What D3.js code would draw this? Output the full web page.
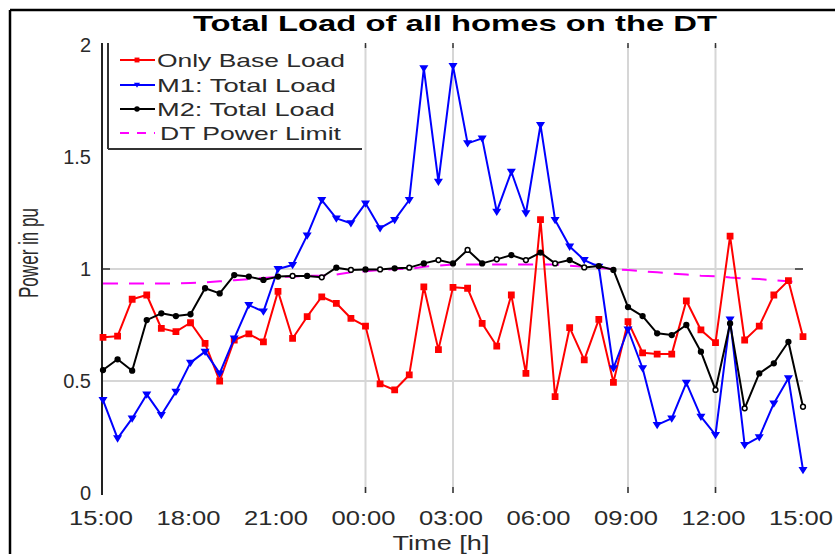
<!DOCTYPE html>
<html>
<head>
<meta charset="utf-8">
<script src="https://cdn.jsdelivr.net/npm/d3@7"></script>
<style>
  html, body { margin: 0; padding: 0; background: #fff; }
  svg { display: block; font-family: "Liberation Sans", Arial, Helvetica, sans-serif; }
</style>
</head>
<body>
<svg id="chart" width="835" height="554"></svg>
<script>
// ---- data (30-minute steps from 15:00 to 15:00 next day) ----
const hours = d3.range(49).map(i => i * 0.5);
const baseLoad = [0.695,0.70,0.865,0.884,0.735,0.72,0.76,0.668,0.50,0.683,0.71,0.675,0.90,
  0.69,0.787,0.876,0.847,0.78,0.745,0.487,0.46,0.527,0.92,0.64,0.918,
  0.914,0.757,0.656,0.884,0.534,1.22,0.43,0.738,0.594,0.775,0.494,0.765,
  0.626,0.62,0.62,0.858,0.728,0.671,1.147,0.683,0.745,0.884,0.948,0.698];
const m1Load = [0.415,0.244,0.333,0.44,0.348,0.452,0.582,0.631,0.534,0.69,0.839,0.81,1.0,
  1.018,1.15,1.308,1.226,1.204,1.293,1.182,1.219,1.308,1.896,1.39,1.906,
  1.561,1.583,1.256,1.434,1.249,1.643,1.219,1.10,1.04,1.01,0.557,0.73,
  0.557,0.304,0.333,0.492,0.341,0.259,0.775,0.214,0.249,0.40,0.512,0.103];
const m2Load = [0.549,0.597,0.546,0.772,0.802,0.79,0.798,0.914,0.891,0.973,0.966,0.951,0.966,
  0.969,0.969,0.963,1.006,0.996,0.998,0.998,1.003,1.006,1.025,1.04,1.025,
  1.085,1.025,1.043,1.062,1.04,1.073,1.025,1.04,1.007,1.013,0.996,0.83,
  0.79,0.713,0.705,0.75,0.631,0.46,0.757,0.378,0.534,0.579,0.675,0.385];
const dtLimit = [0.935,0.935,0.935,0.935,0.935,0.935,0.938,0.94,0.945,0.95,0.955,0.96,0.965,
  0.965,0.97,0.97,0.975,0.985,0.99,0.995,1.0,1.0,1.01,1.015,1.02,
  1.02,1.02,1.02,1.02,1.02,1.02,1.02,1.015,1.01,1.005,1.0,0.995,
  0.99,0.985,0.98,0.975,0.97,0.968,0.962,0.958,0.955,0.95,0.945,0.94];
const xTickValues = [0,3,6,9,12,15,18,21,24];
const xTickLabels = ["15:00","18:00","21:00","00:00","03:00","06:00","09:00","12:00","15:00"];
const yTickValues = [0,0.5,1,1.5,2];
const yTickLabels = ["0","0.5","1","1.5","2"];
const xGridValues = [9,12,18,21];
const yGridValues = [0.5,1];
const seriesNames = ["Only Base Load","M1: Total Load","M2: Total Load","DT Power Limit"];

// ---- layout ----
const svg = d3.select("#chart");
const X0 = 103, X1 = 803, Y0 = 493, Y1 = 45;
const x = d3.scaleLinear().domain([0,24]).range([X0,X1]);
const y = d3.scaleLinear().domain([0,2]).range([Y0,Y1]);
const textCol = "#2a2a2a";

// outer frame (top and left)
svg.append("line").attr("x1",10).attr("x2",835).attr("y1",10).attr("y2",10).attr("stroke","#000").attr("stroke-width",2.5);
svg.append("line").attr("x1",10).attr("x2",10).attr("y1",10).attr("y2",554).attr("stroke","#000").attr("stroke-width",2.5);

// grid
const grid = svg.append("g");
grid.selectAll("line.gx").data(xGridValues).join("line")
  .attr("x1",d=>x(d)).attr("x2",d=>x(d)).attr("y1",Y1).attr("y2",Y0)
  .attr("stroke","#d6d6d6").attr("stroke-width",2);
grid.selectAll("line.gy").data(yGridValues).join("line")
  .attr("x1",X0).attr("x2",X1).attr("y1",d=>y(d)).attr("y2",d=>y(d))
  .attr("stroke","#d6d6d6").attr("stroke-width",2);
grid.selectAll("line.tt").data(xGridValues).join("line")
  .attr("x1",d=>x(d)).attr("x2",d=>x(d)).attr("y1",Y1-2).attr("y2",Y1+3)
  .attr("stroke","#333").attr("stroke-width",1.5);
grid.selectAll("line.tb").data(xGridValues).join("line")
  .attr("x1",d=>x(d)).attr("x2",d=>x(d)).attr("y1",Y0-6).attr("y2",Y0)
  .attr("stroke","#333").attr("stroke-width",1.5);
svg.append("line").attr("x1",X1-8).attr("x2",X1).attr("y1",y(1)).attr("y2",y(1)).attr("stroke","#333").attr("stroke-width",1.5);
svg.append("line").attr("x1",X0).attr("x2",X0+7).attr("y1",y(1)).attr("y2",y(1)).attr("stroke","#333").attr("stroke-width",1.5);

// left axis line
svg.append("line").attr("x1",X0-1).attr("x2",X0-1).attr("y1",Y1-2).attr("y2",Y0+2).attr("stroke","#222").attr("stroke-width",2);

// y tick labels
svg.append("g").selectAll("text").data(yTickValues).join("text")
  .attr("x",91).attr("y",d=>y(d)).attr("dy","0.36em")
  .attr("text-anchor","end").attr("font-size",20).attr("fill",textCol)
  .text((d,i)=>yTickLabels[i]);

// x tick labels
svg.append("g").selectAll("text").data(xTickValues).join("text")
  .attr("x",d=>x(d)-2).attr("y",525)
  .attr("text-anchor","middle").attr("font-size",20).attr("fill",textCol)
  .attr("textLength",64).attr("lengthAdjust","spacingAndGlyphs")
  .text((d,i)=>xTickLabels[i]);

// axis titles
svg.append("text").attr("x",441).attr("y",550).attr("text-anchor","middle")
  .attr("font-size",21).attr("fill",textCol).attr("textLength",97).attr("lengthAdjust","spacingAndGlyphs")
  .text("Time [h]");
svg.append("text").attr("transform","translate(38,253) scale(1.35,1) rotate(-90)").attr("text-anchor","middle")
  .attr("font-size",21).attr("fill",textCol).attr("textLength",90).attr("lengthAdjust","spacingAndGlyphs")
  .text("Power in pu");
svg.append("text").attr("x",455).attr("y",31).attr("text-anchor","middle")
  .attr("font-size",22).attr("font-weight","bold").attr("fill","#000")
  .attr("textLength",524).attr("lengthAdjust","spacingAndGlyphs")
  .text("Total Load of all homes on the DT");

// series
const line = d3.line().x((d,i)=>x(hours[i])).y(d=>y(d));
svg.append("path").datum(dtLimit).attr("d",line).attr("fill","none")
  .attr("stroke","#ff00ff").attr("stroke-width",2).attr("stroke-dasharray","15,11");

function drawSeries(vals, color, symbol, size, openIdx) {
  const g = svg.append("g");
  g.append("path").datum(vals).attr("d",line).attr("fill","none")
    .attr("stroke",color).attr("stroke-width",2).attr("stroke-linejoin","round");
  g.selectAll("path.m").data(vals).join("path")
    .attr("transform",(d,i)=>`translate(${x(hours[i])},${y(d)})`)
    .attr("d",d3.symbol().type(symbol).size(size))
    .attr("fill",(d,i)=>openIdx && openIdx(i) ? "#fff" : color)
    .attr("stroke",color).attr("stroke-width",1.5);
}
const triDown = {draw(ctx,size){const r=Math.sqrt(size)/1.6;ctx.moveTo(-r,-r*0.7);ctx.lineTo(r,-r*0.7);ctx.lineTo(0,r*0.9);ctx.closePath();}};
drawSeries(baseLoad,"#ff0000",d3.symbolSquare,28);
drawSeries(m1Load,"#0000ff",triDown,26);
drawSeries(m2Load,"#000000",d3.symbolCircle,18,i=>(i>=13&&i<=34&&i%2===1)||i===42||i===44||i===48);

// legend
const lg = svg.append("g");
lg.append("line").attr("x1",108).attr("x2",108).attr("y1",Y1-2).attr("y2",149).attr("stroke","#333").attr("stroke-width",2);
lg.append("line").attr("x1",108).attr("x2",362).attr("y1",149).attr("y2",149).attr("stroke","#333").attr("stroke-width",2);
const rows = [60,85,109,133];
const legColors = ["#ff0000","#0000ff","#000000","#ff00ff"];
const legSyms = [d3.symbolSquare, triDown, d3.symbolCircle, null];
const legLens = [188,179,178,181];
rows.forEach((ry,i)=>{
  if (i < 3) {
    lg.append("line").attr("x1",120).attr("x2",155).attr("y1",ry).attr("y2",ry).attr("stroke",legColors[i]).attr("stroke-width",2);
    lg.append("path").attr("transform",`translate(137,${ry})`).attr("d",d3.symbol().type(legSyms[i]).size(24)).attr("fill",legColors[i]);
  } else {
    lg.append("line").attr("x1",120).attr("x2",155).attr("y1",ry).attr("y2",ry).attr("stroke",legColors[i]).attr("stroke-width",2).attr("stroke-dasharray","9,8");
  }
  lg.append("text").attr("x",i===3?160:157).attr("y",ry).attr("dy","0.36em").attr("font-size",19).attr("fill",textCol)
    .attr("textLength",legLens[i]).attr("lengthAdjust","spacingAndGlyphs").text(seriesNames[i]);
});
</script>
</body>
</html>
